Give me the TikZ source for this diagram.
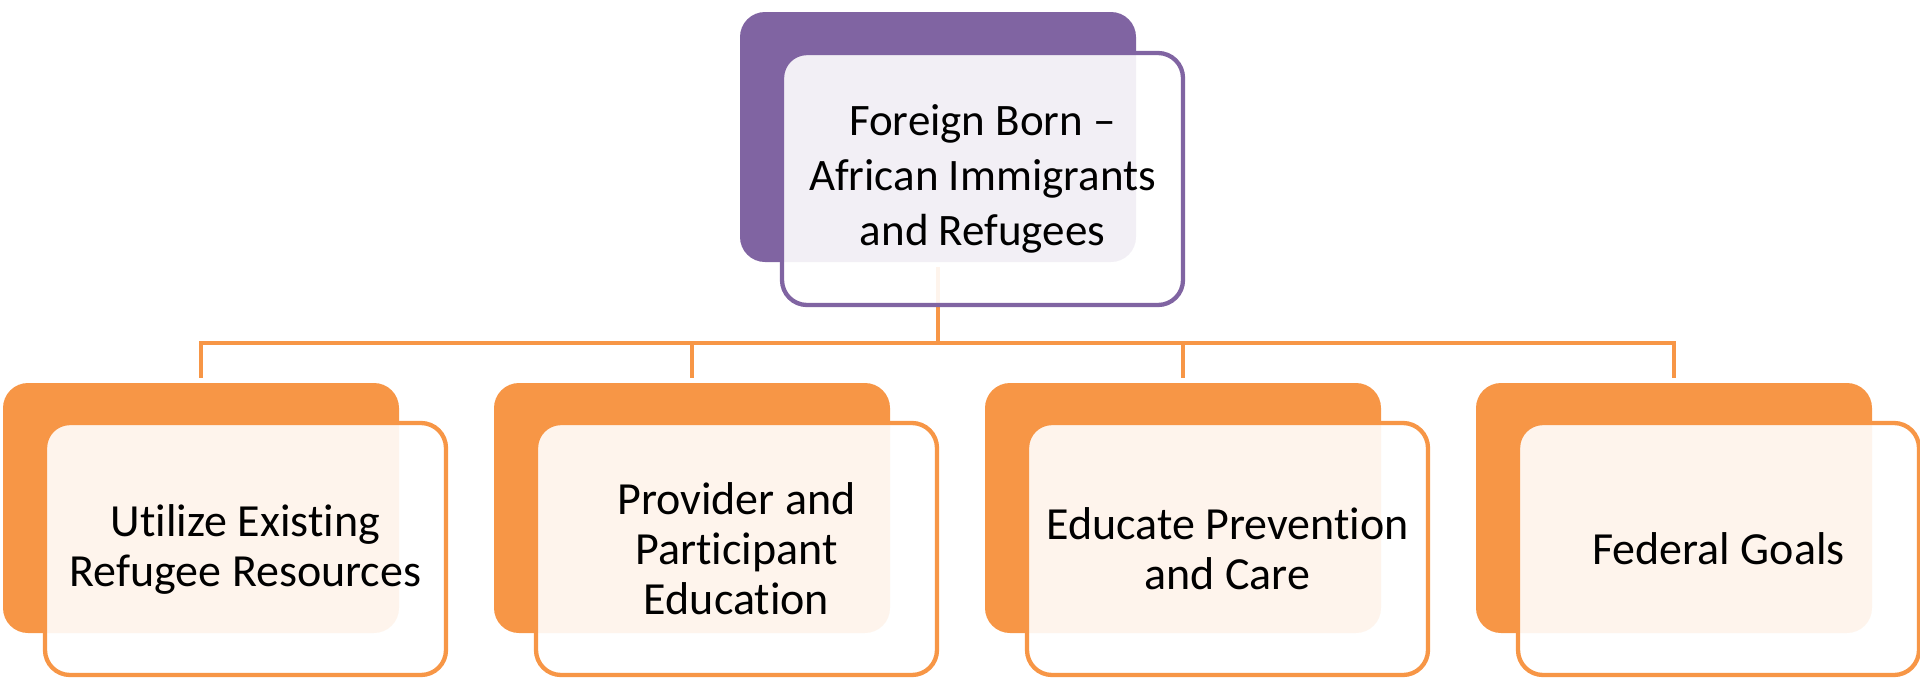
\documentclass[tikz,border=0pt]{standalone}
\usepackage{fontspec}
\setmainfont[Ligatures={NoCommon}]{Carlito}
\definecolor{purp}{HTML}{8064A2}
\definecolor{orng}{HTML}{F79646}
\tikzset{
  back/.style={rectangle, rounded corners=25pt, draw=none, minimum width=396pt, minimum height=250pt, inner sep=0pt},
  front/.style={rectangle, rounded corners=25pt, line width=4.3pt, fill=white, fill opacity=0.9, text opacity=1, minimum width=401pt, minimum height=252pt, align=center, inner sep=0pt, font=\fontsize{46}{50}\selectfont},
  conn/.style={draw=orng, line width=4.3pt, shorten <=5pt, shorten >=5pt}
}
\begin{document}
\begin{tikzpicture}[x=1pt,y=-1pt]
\useasboundingbox (0,0) rectangle (1920,678);
% back rectangles
\node[back, fill=purp] (P) at (938,137) {};
\node[back, fill=orng] (B1) at (201,508) {};
\node[back, fill=orng] (B2) at (692,508) {};
\node[back, fill=orng] (B3) at (1183,508) {};
\node[back, fill=orng] (B4) at (1674,508) {};
\coordinate (bus) at (938,343);
% connectors
\draw[conn] (P.south) -- (P.south |- bus) -| (B1.north);
\draw[conn] (P.south) -- (P.south |- bus) -| (B2.north);
\draw[conn] (P.south) -- (P.south |- bus) -| (B3.north);
\draw[conn] (P.south) -- (P.south |- bus) -| (B4.north);
% front boxes
\node[front, draw=purp, font=\fontsize{45}{55}\selectfont] (PF) at (982.5,179) {Foreign Born –\\African Immigrants\\and Refugees};
\node[front, draw=orng] (F1) at (245.5,549) {Utilize Existing\\Refugee Resources};
\node[front, draw=orng] (F2) at (736.5,549) {Provider and\\Participant\\Education};
\node[front, draw=orng] (F3) at (1227.5,549) {Educate Prevention\\and Care};
\node[front, draw=orng] (F4) at (1718.5,549) {Federal Goals};
\end{tikzpicture}
\end{document}
